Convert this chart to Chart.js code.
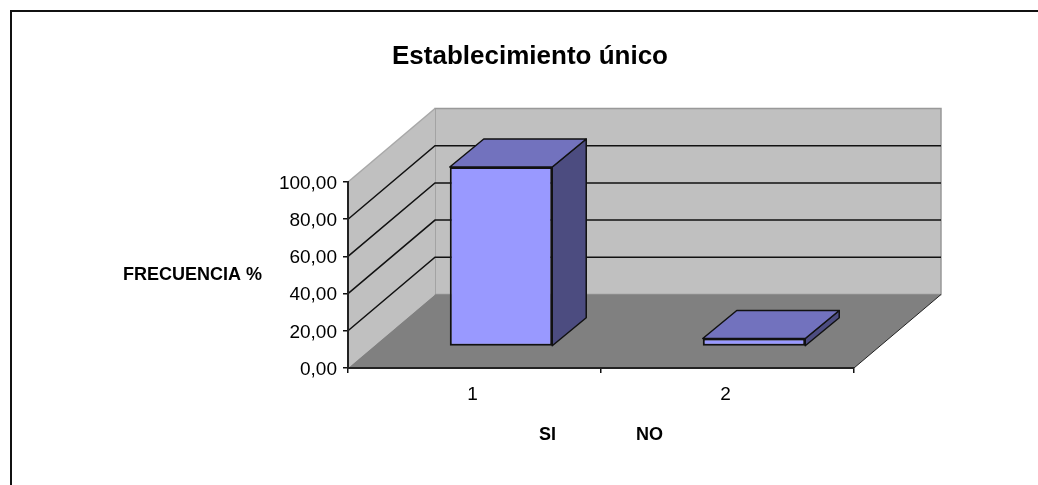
<!DOCTYPE html>
<html>
<head>
<meta charset="utf-8">
<title>Establecimiento único</title>
<script src="https://cdn.jsdelivr.net/npm/chart.js@4"></script>
<style>
  html, body { margin: 0; padding: 0; background: #fff; }
  canvas { display: block; }
</style>
</head>
<body>
<canvas id="establecimiento" width="1038" height="485"></canvas>
<script>
// data
const categories = ["1", "2"];
const frecuencia = [96.5, 4.3];
const yTicks = [0, 20, 40, 60, 80, 100];

const FONT = "'Liberation Sans', Arial, sans-serif";

// depth of the box and of the bars, in pixels
const boxDepth = { x: 87, y: -73.5 };
const barDepth = { x: 34, y: -28 };
const barShift = { x: 26.5, y: -21.5 };

// page frame, walls and floor go under everything else
const box3d = {
  id: "box3d",
  beforeDraw(chart) {
    const ctx = chart.ctx;
    const { left, right, top, bottom } = chart.chartArea;
    const dx = boxDepth.x, dy = boxDepth.y;

    ctx.save();
    ctx.strokeStyle = "#111";
    ctx.lineWidth = 2;
    ctx.beginPath();
    ctx.moveTo(11, 485);
    ctx.lineTo(11, 11);
    ctx.lineTo(1038, 11);
    ctx.stroke();

    // back wall
    ctx.fillStyle = "#c0c0c0";
    ctx.fillRect(left + dx, top + dy, right - left, bottom - top);
    ctx.strokeStyle = "#999";
    ctx.lineWidth = 1.5;
    ctx.strokeRect(left + dx, top + dy, right - left, bottom - top);

    // side wall
    ctx.beginPath();
    ctx.moveTo(left, bottom);
    ctx.lineTo(left, top);
    ctx.lineTo(left + dx, top + dy);
    ctx.lineTo(left + dx, bottom + dy);
    ctx.closePath();
    ctx.fill();

    // floor
    ctx.fillStyle = "#808080";
    ctx.beginPath();
    ctx.moveTo(left, bottom);
    ctx.lineTo(left + dx, bottom + dy);
    ctx.lineTo(right + dx, bottom + dy);
    ctx.lineTo(right, bottom);
    ctx.closePath();
    ctx.fill();

    ctx.strokeStyle = "#222";
    ctx.lineWidth = 1;
    ctx.beginPath();
    ctx.moveTo(right, bottom);
    ctx.lineTo(right + dx, bottom + dy);
    ctx.stroke();

    // grid lines run along the side wall and then across the back
    const yScale = chart.scales.y;
    ctx.strokeStyle = "#111";
    ctx.lineWidth = 1.5;
    yScale.ticks.forEach(t => {
      if (t.value === 0 || t.value === 100) return;
      const y = yScale.getPixelForValue(t.value);
      ctx.beginPath();
      ctx.moveTo(left, y);
      ctx.lineTo(left + dx, y + dy);
      ctx.lineTo(right + dx, y + dy);
      ctx.stroke();
    });

    // top edge of the side wall
    ctx.strokeStyle = "#a8a8a8";
    ctx.beginPath();
    ctx.moveTo(left, top);
    ctx.lineTo(left + dx, top + dy);
    ctx.stroke();

    // horizontal axis label on the left
    ctx.fillStyle = "#000";
    ctx.font = "bold 18px " + FONT;
    ctx.textBaseline = "middle";
    ctx.fillText("FRECUENCIA %", 123, 275);
    ctx.restore();
  },
  // side and top faces, then the library draws the front face in the same offset
  beforeDatasetsDraw(chart) {
    const ctx = chart.ctx;
    ctx.save();
    ctx.translate(barShift.x, barShift.y);
    ctx.lineWidth = 1.5;
    ctx.strokeStyle = "#111";
    ctx.lineJoin = "round";
    chart.getDatasetMeta(0).data.forEach(bar => {
      const l = bar.x - bar.width / 2, r = bar.x + bar.width / 2;
      const dx = barDepth.x, dy = barDepth.y;

      ctx.fillStyle = "#4c4c80";
      ctx.beginPath();
      ctx.moveTo(r, bar.base);
      ctx.lineTo(r + dx, bar.base + dy);
      ctx.lineTo(r + dx, bar.y + dy);
      ctx.lineTo(r, bar.y);
      ctx.closePath();
      ctx.fill();
      ctx.stroke();

      ctx.fillStyle = "#7272be";
      ctx.beginPath();
      ctx.moveTo(l, bar.y);
      ctx.lineTo(l + dx, bar.y + dy);
      ctx.lineTo(r + dx, bar.y + dy);
      ctx.lineTo(r, bar.y);
      ctx.closePath();
      ctx.fill();
      ctx.stroke();
    });
  },
  afterDatasetsDraw(chart) {
    chart.ctx.restore();
  }
};

const config = {
  type: "bar",
  data: {
    labels: categories,
    datasets: [{
      label: "Frecuencia",
      data: frecuencia,
      backgroundColor: "#9999ff",
      borderColor: "#111",
      borderWidth: 2,
      borderSkipped: false,
      barPercentage: 0.405,
      categoryPercentage: 1,
      clip: false
    }]
  },
  options: {
    responsive: false,
    animation: false,
    layout: { padding: { top: 33, left: 206, right: 184, bottom: 0 } },
    plugins: {
      legend: { display: false },
      tooltip: { enabled: false },
      title: {
        display: true,
        text: "Establecimiento único",
        color: "#000",
        font: { family: FONT, size: 26, weight: "bold", lineHeight: 1.2 },
        padding: { top: 8, bottom: 109.8 }
      }
    },
    scales: {
      x: {
        afterFit(scale) { scale.height = 117; },
        grid: { drawOnChartArea: false, offset: true, tickLength: 5, color: "#111", lineWidth: 1.5 },
        border: { color: "#222", width: 2 },
        ticks: { color: "#000", font: { family: FONT, size: 19 }, padding: 10, labelOffset: -2, maxRotation: 0 },
        title: {
          display: true,
          text: "SI" + " ".repeat(16) + "NO",
          color: "#000",
          font: { family: FONT, size: 18, weight: "bold", lineHeight: 1.2 },
          padding: { top: 0, bottom: 39 }
        }
      },
      y: {
        min: 0,
        max: 100,
        afterFit(scale) { scale.width = 142; },
        afterBuildTicks(scale) { scale.ticks = yTicks.map(v => ({ value: v })); },
        grid: { drawOnChartArea: false, tickLength: 5, color: "#111", lineWidth: 1.5 },
        border: { color: "#222", width: 2 },
        ticks: {
          color: "#000",
          font: { family: FONT, size: 19 },
          padding: 6,
          labelOffset: 1.5,
          callback: v => v.toFixed(2).replace(".", ",")
        }
      }
    }
  },
  plugins: [box3d]
};

const establecimientoChart = new Chart(document.getElementById("establecimiento"), config);
</script>
</body>
</html>
